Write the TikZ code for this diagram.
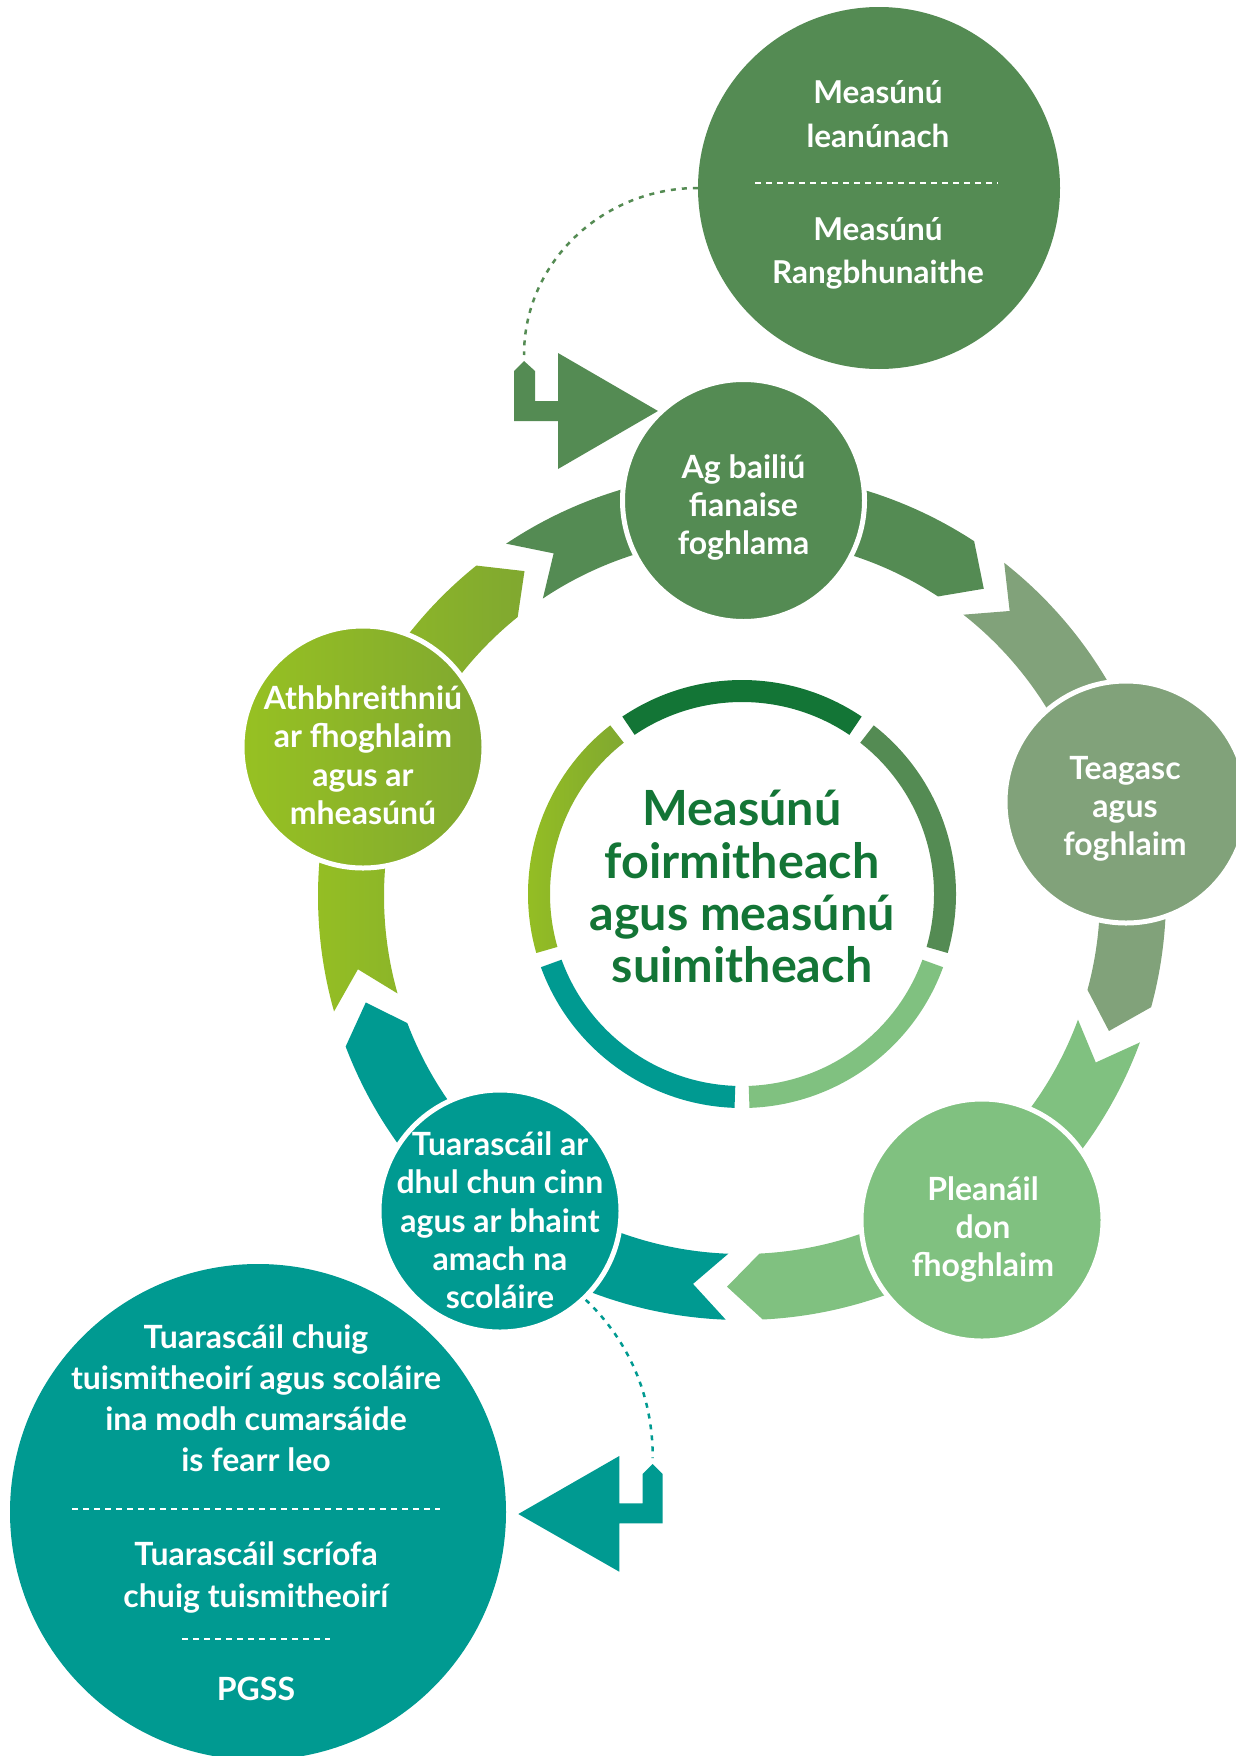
\documentclass[tikz,border=0pt]{standalone}
\usepackage{fontspec}
\setmainfont{Lato}
\definecolor{cA}{RGB}{84,139,83}
\definecolor{cT}{RGB}{129,162,122}
\definecolor{cP}{RGB}{128,193,128}
\definecolor{cU}{RGB}{0,154,145}
\definecolor{cHl}{RGB}{151,193,34}
\definecolor{cHr}{RGB}{128,168,48}
\definecolor{cD}{RGB}{19,117,54}
\newcommand\bandseg[3]{%
  \path[#3] (#1:424pt) arc[start angle=#1, end angle={#2+5}, radius=424pt]
    -- ({#2}:391pt) -- ({#2+5}:358pt)
    arc[start angle={#2+5}, end angle=#1, radius=358pt]
    -- ({#1-5}:391pt) -- cycle;}
\newcommand\innerseg[3]{%
  \path[#3] (#1:214pt) arc[start angle=#1, end angle=#2, radius=214pt]
    -- (#2:192pt) arc[start angle=#2, end angle=#1, radius=192pt] -- cycle;}
\begin{document}
\begin{tikzpicture}[x=1pt,y=1pt,
  nodecirc/.style={circle, inner sep=0pt, minimum size=242pt, draw=white, line width=5pt},
  bigcirc/.style={circle, inner sep=0pt},
  wtxt/.style={text=white, font=\fontsize{32}{38}\selectfont\bfseries, anchor=base, inner sep=0pt},
  wtxtb/.style={wtxt, font=\fontsize{31.5}{38}\selectfont\bfseries},
  ctxt/.style={text=cD, font=\fontsize{48.5}{53}\selectfont\bfseries, anchor=base, inner sep=0pt},
  divider/.style={white, line width=2pt, dash pattern=on 6pt off 5pt},
  dotline/.style={line width=2.5pt, dash pattern=on 5pt off 6pt},
]
\useasboundingbox (0,0) rectangle (1236,-1756);

% outer band of arrows
\begin{scope}[shift={(742,-896)}]
  \bandseg{123.8}{51.8}{fill=cA}
  \bandseg{51.8}{-20.2}{fill=cT}
  \bandseg{-20.2}{-92.2}{fill=cP}
  \bandseg{-92.2}{-164.2}{fill=cU}
  \bandseg{195.8}{123.8}{left color=cHl, right color=cHr}
\end{scope}

% inner ring
\begin{scope}[shift={(742,-894)}]
  \innerseg{56}{124}{fill=cD}
  \innerseg{-16}{52}{fill=cA}
  \innerseg{-88}{-20}{fill=cP}
  \innerseg{-160}{-92}{fill=cU}
  \innerseg{128}{196}{left color=cHl, right color=cHr}
\end{scope}

% big circles
\node[bigcirc, minimum size=362pt, fill=cA] (bigA) at (879,-188) {};
\node[bigcirc, minimum size=496pt, fill=cU] (bigU) at (258,-1512) {};

% arrow shapes
\fill[cA] (524,-361) -- (535,-371) -- (535,-401) -- (558,-401) -- (558,-353)
  -- (658,-411) -- (558,-469) -- (558,-421) -- (514,-421) -- (514,-371) -- cycle;
\fill[cU] (652.7,-1464) -- (662.7,-1474) -- (662.7,-1523.3) -- (619.3,-1523.3)
  -- (619.3,-1571.7) -- (518.3,-1514) -- (619.3,-1456) -- (619.3,-1503.3)
  -- (642.7,-1503.3) -- (642.7,-1474) -- cycle;
\coordinate (eA) at (524,-355);
\coordinate (eU) at (652.7,-1458);

% cycle nodes
\node[nodecirc, fill=cA] (A) at (743.5,-500.5) {};
\node[nodecirc, fill=cT] (T) at (1126,-802) {};
\node[nodecirc, fill=cP] (P) at (982,-1220) {};
\node[nodecirc, fill=cU] (U) at (500,-1211) {};
\node[nodecirc, left color=cHl, right color=cHr] (H) at (363,-747) {};

% dotted connectors
\draw[dotline, cA] (bigA.west) .. controls (603,-188) and (524,-262) .. (eA);
\draw[dotline, cU] (U.-46) .. controls (628,-1340) and (653,-1395) .. (eU);

% dividers
\draw[divider] (755,-183) -- (998,-183);
\draw[divider] (72,-1509) -- (440,-1509);
\draw[divider] (182,-1639) -- (330,-1639);

% texts
\node[wtxt] (a1) at (743.5,-478) {Ag bailiú};
\node[wtxt] (a2) at (743.5,-516) {fianaise};
\node[wtxt] (a3) at (743.5,-554) {foghlama};

\node[wtxt] (t1) at (1125,-779) {Teagasc};
\node[wtxt] (t2) at (1125,-817) {agus};
\node[wtxt] (t3) at (1125,-855) {foghlaim};

\node[wtxt] (p1) at (983,-1200) {Pleanáil};
\node[wtxt] (p2) at (983,-1238) {don};
\node[wtxt] (p3) at (983,-1276) {fhoghlaim};

\node[wtxt] (u1) at (500,-1155.5) {Tuarascáil ar};
\node[wtxt] (u2) at (500,-1193.5) {dhul chun cinn};
\node[wtxt] (u3) at (500,-1232.5) {agus ar bhaint};
\node[wtxt] (u4) at (500,-1270.5) {amach na};
\node[wtxt] (u5) at (500,-1308.5) {scoláire};

\node[wtxt] (h1) at (363,-709) {Athbhreithniú};
\node[wtxt] (h2) at (363,-747) {ar fhoghlaim};
\node[wtxt] (h3) at (363,-786) {agus ar};
\node[wtxt] (h4) at (363,-824) {mheasúnú};

\node[ctxt] (c1) at (742,-825) {Measúnú};
\node[ctxt] (c2) at (742,-878) {foirmitheach};
\node[ctxt] (c3) at (742,-930) {agus measúnú};
\node[ctxt] (c4) at (742,-982) {suimitheach};

\node[wtxtb] (ba1) at (878,-103) {Measúnú};
\node[wtxtb] (ba2) at (878,-147) {leanúnach};
\node[wtxtb] (ba3) at (878,-240) {Measúnú};
\node[wtxtb] (ba4) at (878,-283) {Rangbhunaithe};

\node[wtxt] (bu1) at (256,-1348) {Tuarascáil chuig};
\node[wtxt] (bu2) at (256,-1389) {tuismitheoirí agus scoláire};
\node[wtxt] (bu3) at (256,-1430) {ina modh cumarsáide};
\node[wtxt] (bu4) at (256,-1471) {is fearr leo};
\node[wtxt] (bu5) at (256,-1565) {Tuarascáil scríofa};
\node[wtxt] (bu6) at (256,-1607) {chuig tuismitheoirí};
\node[wtxt] (bu7) at (256,-1700) {PGSS};
\end{tikzpicture}
\end{document}
